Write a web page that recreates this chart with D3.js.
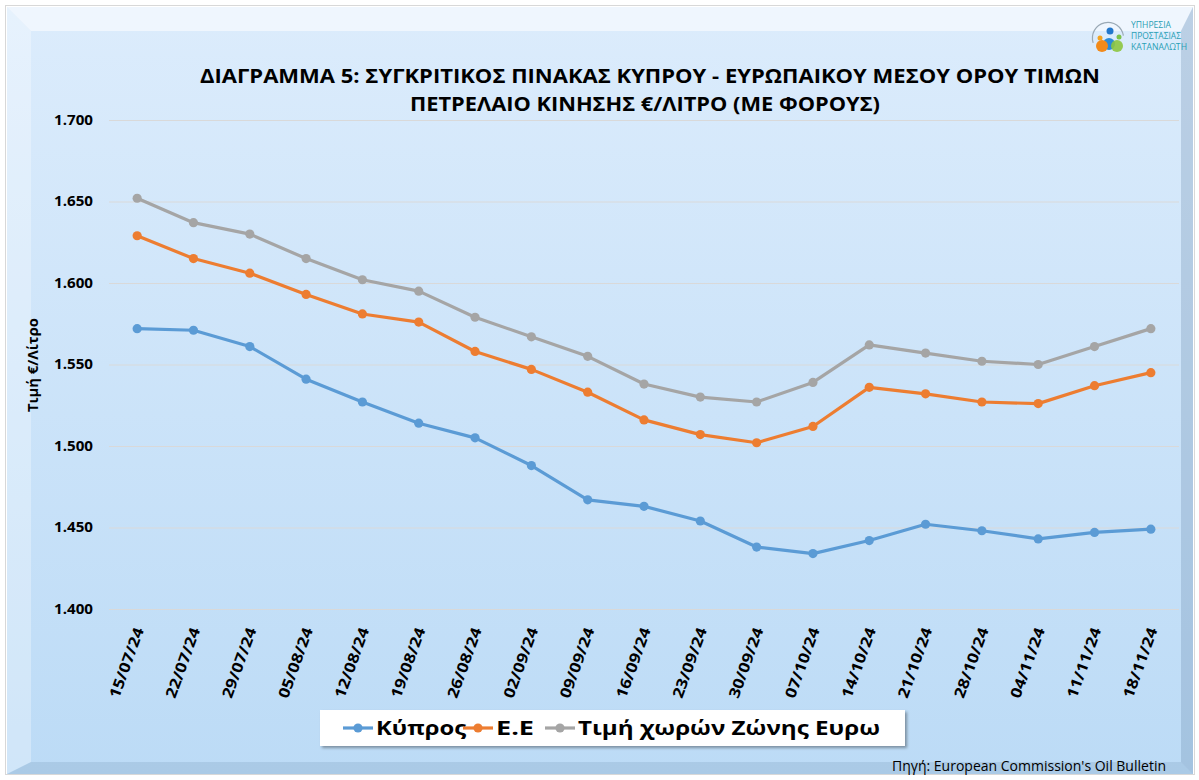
<!DOCTYPE html>
<html>
<head>
<meta charset="utf-8">
<script src="https://cdn.jsdelivr.net/npm/d3@7"></script>
<style>
html,body{margin:0;padding:0;background:#fff;}
svg{display:block;}
text{font-family:"Open Sans","Noto Sans",sans-serif;}
</style>
</head>
<body>
<svg id="chart" width="1199" height="780"></svg>
<script>
const categories = ["15/07/24","22/07/24","29/07/24","05/08/24","12/08/24","19/08/24","26/08/24","02/09/24","09/09/24","16/09/24","23/09/24","30/09/24","07/10/24","14/10/24","21/10/24","28/10/24","04/11/24","11/11/24","18/11/24"];
const cyprus = [1.572,1.571,1.561,1.541,1.527,1.514,1.505,1.488,1.467,1.463,1.454,1.438,1.434,1.442,1.452,1.448,1.443,1.447,1.449];
const eu = [1.629,1.615,1.606,1.593,1.581,1.576,1.558,1.547,1.533,1.516,1.507,1.502,1.512,1.536,1.532,1.527,1.526,1.537,1.545];
const eurozone = [1.652,1.637,1.630,1.615,1.602,1.595,1.579,1.567,1.555,1.538,1.530,1.527,1.539,1.562,1.557,1.552,1.550,1.561,1.572];
const yTicks = [1.400,1.450,1.500,1.550,1.600,1.650,1.700];
const seriesNames = ["Κύπρος","Ε.Ε","Τιμή χωρών Ζώνης Ευρω"];
const colors = ["#5b9bd5","#ed7d31","#a5a5a5"];

const svg = d3.select("#chart");
const defs = svg.append("defs");
const bg = defs.append("linearGradient").attr("id","bg").attr("x1",0).attr("y1",0).attr("x2",0).attr("y2",1);
bg.append("stop").attr("offset","0%").attr("stop-color","#dcecfc");
bg.append("stop").attr("offset","100%").attr("stop-color","#bcdbf6");
const sh = defs.append("filter").attr("id","shadow").attr("x","-5%").attr("y","-20%").attr("width","110%").attr("height","160%");
sh.append("feDropShadow").attr("dx",2).attr("dy",2).attr("stdDeviation",1.5).attr("flood-color","#000").attr("flood-opacity",0.35);

// outer frame
svg.append("rect").attr("x",5.5).attr("y",5.5).attr("width",1189).attr("height",769).attr("fill","none").attr("stroke","#d8d8d8");
const L=7,T=7,R=1193,B=774,bw=24,bw2=12;
svg.append("rect").attr("x",L).attr("y",T).attr("width",R-L).attr("height",B-T).attr("fill","url(#bg)");
svg.append("polygon").attr("points",`${L},${T} ${R},${T} ${R-bw2},${T+bw} ${L+bw},${T+bw}`).attr("fill","#ffffff").attr("opacity",0.55);
svg.append("polygon").attr("points",`${L},${T} ${L+bw},${T+bw} ${L+bw},${B-bw2} ${L},${B}`).attr("fill","#ffffff").attr("opacity",0.3);
svg.append("polygon").attr("points",`${R},${T} ${R},${B} ${R-bw2},${B-bw2} ${R-bw2},${T+bw}`).attr("fill","#5a7da0").attr("opacity",0.25);
svg.append("polygon").attr("points",`${L},${B} ${R},${B} ${R-bw2},${B-bw2} ${L+bw},${B-bw2}`).attr("fill","#5a7da0").attr("opacity",0.18);

// scales
const x = d3.scaleBand().domain(categories).range([109,1179]);
const y = d3.scaleLinear().domain([1.4,1.7]).range([609,120]);

// gridlines + y labels
const yAxis = d3.axisLeft(y).tickValues(yTicks).tickSize(-(1179-109)).tickFormat(d3.format(".3f"));
const ga = svg.append("g").attr("transform","translate(109,0)").call(yAxis);
ga.select(".domain").remove();
ga.selectAll(".tick line").attr("stroke","#d9d9d9").attr("stroke-width",1.2);
ga.selectAll(".tick text").attr("x",-16).attr("font-size",14).attr("font-weight","bold").attr("fill","#000")
  .attr("font-family","'Open Sans',sans-serif").attr("textLength",39).attr("lengthAdjust","spacingAndGlyphs");

// x axis labels
const xAxis = d3.axisBottom(x).tickSize(0);
const gx = svg.append("g").attr("transform","translate(0,609)").call(xAxis);
gx.select(".domain").remove();
gx.selectAll(".tick text")
  .attr("font-size",15).attr("font-weight","bold").attr("fill","#000").attr("font-family","'Open Sans',sans-serif")
  .attr("text-anchor","end").attr("dy","0.35em").attr("y",0)
  .attr("textLength",74).attr("lengthAdjust","spacingAndGlyphs")
  .attr("transform","translate(2,19) rotate(-70)");

// lines
const allSeries = [cyprus, eu, eurozone];
const line = d3.line().x((d,i)=>x(categories[i])+x.bandwidth()/2).y(d=>y(d));
[2,1,0].forEach(k=>{
  const g = svg.append("g");
  g.append("path").datum(allSeries[k]).attr("d",line).attr("fill","none").attr("stroke",colors[k]).attr("stroke-width",3.2).attr("stroke-linejoin","round");
  g.selectAll("circle").data(allSeries[k]).join("circle")
    .attr("cx",(d,i)=>x(categories[i])+x.bandwidth()/2).attr("cy",d=>y(d)).attr("r",4.6).attr("fill",colors[k]);
});

// title
const tAttrs = (t)=>t.attr("text-anchor","middle").attr("font-weight","bold").attr("font-size",20).attr("fill","#000").attr("lengthAdjust","spacingAndGlyphs");
svg.append("text").call(tAttrs).attr("x",650).attr("y",83).attr("textLength",900)
  .text("ΔΙΑΓΡΑΜΜΑ 5: ΣΥΓΚΡΙΤΙΚΟΣ ΠΙΝΑΚΑΣ ΚΥΠΡΟΥ - ΕΥΡΩΠΑΙΚΟΥ ΜΕΣΟΥ ΟΡΟΥ ΤΙΜΩΝ");
svg.append("text").call(tAttrs).attr("x",645).attr("y",111).attr("textLength",470)
  .text("ΠΕΤΡΕΛΑΙΟ ΚΙΝΗΣΗΣ €/ΛΙΤΡΟ (ΜΕ ΦΟΡΟΥΣ)");

// y axis title
svg.append("text").attr("transform","translate(38,365) rotate(-90)").attr("text-anchor","middle")
  .attr("font-size",14).attr("font-weight","bold").attr("textLength",94).attr("lengthAdjust","spacingAndGlyphs").text("Τιμή €/Λίτρο");

// legend
const lg = svg.append("g");
lg.append("rect").attr("x",320).attr("y",710).attr("width",585).attr("height",36).attr("fill","#fff").attr("filter","url(#shadow)");
const legX = [343,463,545];
const legW = [90,38,302];
seriesNames.forEach((n,k)=>{
  lg.append("line").attr("x1",legX[k]).attr("x2",legX[k]+30).attr("y1",728).attr("y2",728).attr("stroke",colors[k]).attr("stroke-width",3.2);
  lg.append("circle").attr("cx",legX[k]+15).attr("cy",728).attr("r",4.6).attr("fill",colors[k]);
  lg.append("text").attr("x",legX[k]+33).attr("y",735).attr("font-size",19).attr("font-weight","bold")
    .attr("textLength",legW[k]).attr("lengthAdjust","spacingAndGlyphs").text(n);
});

// source
svg.append("text").attr("x",1166).attr("y",771).attr("text-anchor","end").attr("font-size",14).attr("fill","#000")
  .text("Πηγή: European Commission's Oil Bulletin");

// logo
const lo = svg.append("g");
lo.append("path").attr("d",d3.arc()({innerRadius:15,outerRadius:16.2,startAngle:-Math.PI*0.6,endAngle:Math.PI*0.45})).attr("transform","translate(1108,38)").attr("fill","#9aa9b5");
lo.append("circle").attr("cx",1110).attr("cy",31).attr("r",3.5).attr("fill","#2277cc");
lo.append("circle").attr("cx",1100).attr("cy",38).attr("r",2.5).attr("fill","#f4a21c");
lo.append("circle").attr("cx",1119).attr("cy",37).attr("r",2.5).attr("fill","#7cc24a");
lo.append("circle").attr("cx",1109).attr("cy",44).attr("r",6).attr("fill","#2a8bd6");
lo.append("circle").attr("cx",1102).attr("cy",46).attr("r",6).attr("fill","#f28a1a");
lo.append("circle").attr("cx",1117).attr("cy",46).attr("r",6).attr("fill","#8dc63f").attr("opacity",0.9);
const logoText = ["ΥΠΗΡΕΣΙΑ","ΠΡΟΣΤΑΣΙΑΣ","ΚΑΤΑΝΑΛΩΤΗ"];
const logoW = [40,50,56];
logoText.forEach((s,i)=>lo.append("text").attr("x",1131).attr("y",28+i*11).attr("font-size",8.5)
  .attr("fill","#2a9fb5").attr("font-family","'DejaVu Sans Condensed','Liberation Sans Narrow',sans-serif")
  .attr("textLength",logoW[i]).attr("lengthAdjust","spacingAndGlyphs").text(s));
</script>
</body>
</html>
